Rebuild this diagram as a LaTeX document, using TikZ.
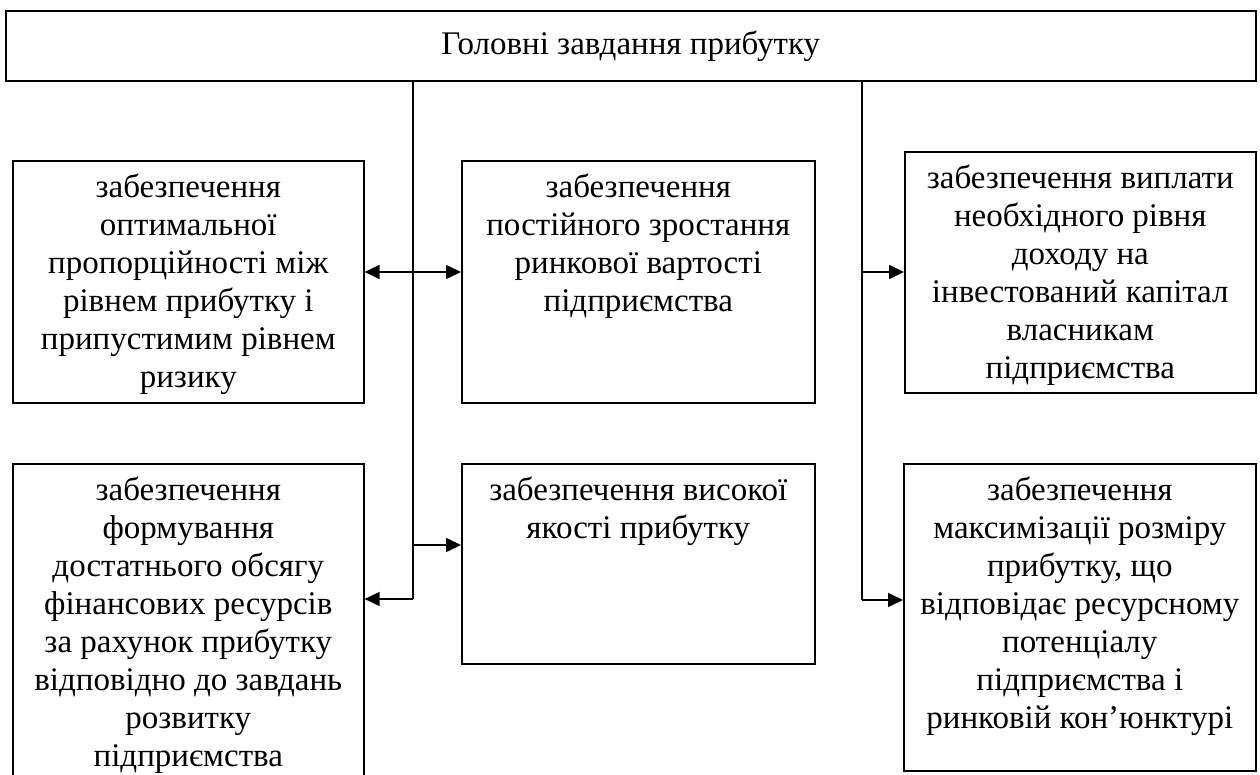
\documentclass[tikz,border=0pt]{standalone}
\usepackage{fontspec}
\setmainfont{Liberation Serif}
\usetikzlibrary{arrows.meta}
\begin{document}
\begin{tikzpicture}[x=1pt,y=-1pt,
  box/.style={draw, line width=1.6pt, anchor=north west, inner sep=0pt},
  txt/.style={anchor=north, inner sep=0pt, align=center, font=\fontsize{33}{38}\selectfont},
  conn/.style={line width=1.6pt},
  arr/.style={conn, -{Triangle[length=15pt,width=14pt]}},
  darr/.style={conn, {Triangle[length=15pt,width=14pt]}-{Triangle[length=15pt,width=14pt]}}]
\useasboundingbox (0,0) rectangle (1260,775);
\clip (0,0) rectangle (1260,775);
% boxes
\node[box, minimum width=1250pt, minimum height=70pt] (top) at (5,10) {};
\node[txt, anchor=center, font=\fontsize{33}{38}\selectfont] (toptxt) at (top.center) {Головні завдання прибутку};

\node[box, minimum width=351pt, minimum height=242pt] (lb1) at (12,160) {};
\node[txt] (lb1t) at ([yshift=-14pt]lb1.north) {забезпечення\\оптимальної\\пропорційності між\\рівнем прибутку і\\припустимим рівнем\\ризику};

\node[box, minimum width=353pt, minimum height=242pt] (mb1) at (461,160) {};
\node[txt] (mb1t) at ([yshift=-14pt]mb1.north) {забезпечення\\постійного зростання\\ринкової вартості\\підприємства};

\node[box, minimum width=351pt, minimum height=241pt] (rb1) at (904,151) {};
\node[txt] (rb1t) at ([yshift=-14pt]rb1.north) {забезпечення виплати\\необхідного рівня\\доходу на\\інвестований капітал\\власникам\\підприємства};

\node[box, minimum width=351pt, minimum height=340pt] (lb2) at (12,463) {};
\node[txt] (lb2t) at ([yshift=-14pt]lb2.north) {забезпечення\\формування\\достатнього обсягу\\фінансових ресурсів\\за рахунок прибутку\\відповідно до завдань\\розвитку\\підприємства};

\node[box, minimum width=353pt, minimum height=200pt] (mb2) at (461,463) {};
\node[txt] (mb2t) at ([yshift=-14pt]mb2.north) {забезпечення високої\\якості прибутку};

\node[box, minimum width=352pt, minimum height=307pt] (rb2) at (903,463) {};
\node[txt] (rb2t) at ([yshift=-14pt]rb2.north) {забезпечення\\максимізації розміру\\прибутку, що\\відповідає ресурсному\\потенціалу\\підприємства і\\ринковій кон’юнктурі};

% junction coordinates
\coordinate (j1) at (413,599);
\coordinate (j2) at (862,600);
\coordinate (ya) at (0,272);
\coordinate (yb) at (0,545);

% connectors
\draw[conn] (top.south -| j1) -- (j1);
\draw[arr] (j1) -- (lb2.east |- j1);
\draw[darr] (lb1.east |- ya) -- (mb1.west |- ya);
\draw[arr] (j1 |- yb) -- (mb2.west |- yb);
\draw[conn] (top.south -| j2) -- (j2);
\draw[arr] (j2 |- ya) -- (rb1.west |- ya);
\draw[arr] (j2) -- (rb2.west |- j2);
\end{tikzpicture}
\end{document}
